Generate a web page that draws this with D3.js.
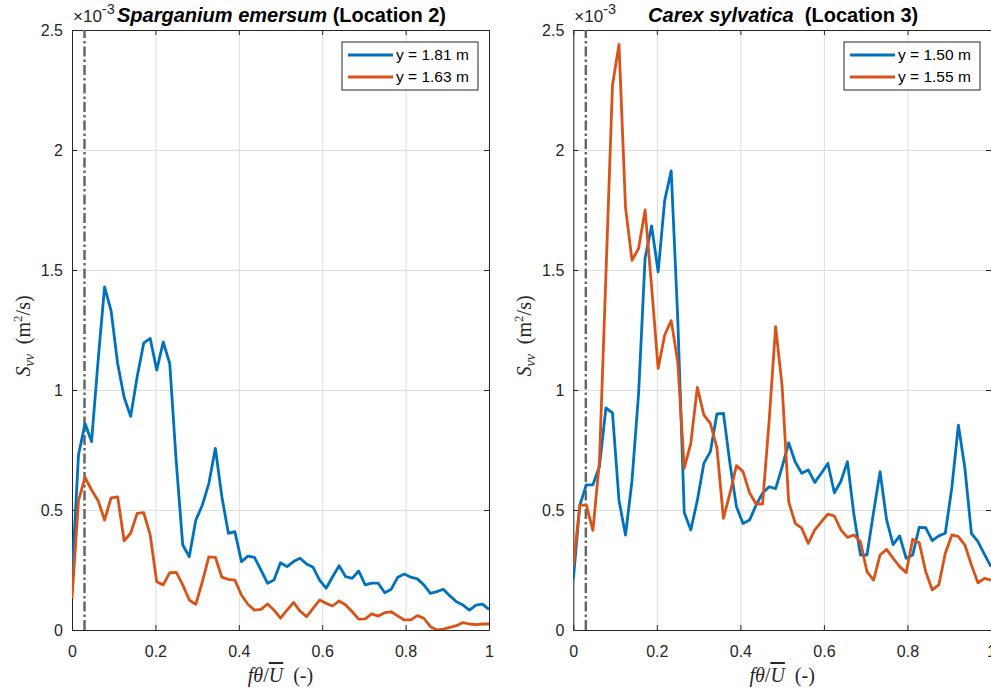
<!DOCTYPE html>
<html>
<head>
<meta charset="utf-8">
<script src="https://cdn.jsdelivr.net/npm/d3@7"></script>
<style>
  html, body { margin: 0; padding: 0; background: #fff; }
  svg { display: block; }
  text { white-space: pre; }
</style>
</head>
<body>
<svg id="chart" width="991" height="692"></svg>
<script>
// Normalised frequency f·θ/Ū of each spectral bin
const freq = [0, 0.0156, 0.0313, 0.0469, 0.0625, 0.0781, 0.0938, 0.1094, 0.125, 0.1406,
  0.1563, 0.1719, 0.1875, 0.2031, 0.2188, 0.2344, 0.25, 0.2656, 0.2813, 0.2969,
  0.3125, 0.3281, 0.3438, 0.3594, 0.375, 0.3906, 0.4063, 0.4219, 0.4375, 0.4531,
  0.4688, 0.4844, 0.5, 0.5156, 0.5313, 0.5469, 0.5625, 0.5781, 0.5938, 0.6094,
  0.625, 0.6406, 0.6563, 0.6719, 0.6875, 0.7031, 0.7188, 0.7344, 0.75, 0.7656,
  0.7813, 0.7969, 0.8125, 0.8281, 0.8438, 0.8594, 0.875, 0.8906, 0.9063, 0.9219,
  0.9375, 0.9531, 0.9688, 0.9844, 1];

// Spectra S_vv in units of 1e-3 m^2/s
// Sparganium emersum (Location 2)
const sparganium181 = [0.22, 0.73, 0.86, 0.785, 1.12, 1.43, 1.33, 1.11, 0.97, 0.89,
  1.055, 1.195, 1.215, 1.083, 1.20, 1.11, 0.70, 0.354, 0.305, 0.458,
  0.52, 0.61, 0.757, 0.555, 0.403, 0.41, 0.285, 0.308, 0.303, 0.25,
  0.195, 0.208, 0.28, 0.264, 0.285, 0.299, 0.275, 0.261, 0.208, 0.174,
  0.222, 0.268, 0.222, 0.215, 0.246, 0.188, 0.195, 0.195, 0.155, 0.17,
  0.22, 0.233, 0.22, 0.213, 0.188, 0.153, 0.16, 0.17, 0.142, 0.118,
  0.104, 0.083, 0.104, 0.108, 0.086];
const sparganium163 = [0.132, 0.54, 0.636, 0.583, 0.54, 0.458, 0.551, 0.555, 0.372, 0.403,
  0.486, 0.489, 0.396, 0.201, 0.188, 0.239, 0.24, 0.188, 0.125, 0.107,
  0.201, 0.305, 0.303, 0.22, 0.211, 0.208, 0.146, 0.107, 0.083, 0.086,
  0.108, 0.083, 0.049, 0.083, 0.115, 0.079, 0.056, 0.09, 0.125, 0.111,
  0.1, 0.121, 0.104, 0.076, 0.045, 0.046, 0.067, 0.058, 0.072, 0.076,
  0.058, 0.042, 0.042, 0.06, 0.049, 0.014, 0.0, 0.004, 0.011, 0.018,
  0.031, 0.025, 0.022, 0.025, 0.025];
// Carex sylvatica (Location 3)
const carex150 = [0.21, 0.52, 0.605, 0.605, 0.68, 0.925, 0.905, 0.54, 0.395, 0.623,
  0.985, 1.55, 1.684, 1.492, 1.79, 1.913, 1.30, 0.49, 0.417, 0.54,
  0.694, 0.743, 0.9, 0.903, 0.694, 0.514, 0.444, 0.458, 0.52, 0.57,
  0.597, 0.589, 0.68, 0.78, 0.70, 0.653, 0.667, 0.615, 0.653, 0.694,
  0.572, 0.62, 0.701, 0.48, 0.3125, 0.3125, 0.49, 0.66, 0.46, 0.356,
  0.392, 0.299, 0.3125, 0.428, 0.426, 0.372, 0.392, 0.403, 0.594, 0.854,
  0.674, 0.403, 0.368, 0.315, 0.264];
const carex155 = [0.265, 0.52, 0.52, 0.415, 0.70, 1.48, 2.27, 2.44, 1.76, 1.54,
  1.59, 1.75, 1.43, 1.09, 1.229, 1.289, 1.118, 0.674, 0.778, 1.011,
  0.896, 0.861, 0.76, 0.465, 0.569, 0.685, 0.66, 0.572, 0.525, 0.525,
  0.87, 1.264, 1.014, 0.535, 0.444, 0.424, 0.361, 0.417, 0.451, 0.483,
  0.475, 0.417, 0.386, 0.396, 0.368, 0.243, 0.208, 0.3125, 0.336, 0.299,
  0.264, 0.239, 0.378, 0.364, 0.243, 0.167, 0.188, 0.32, 0.396, 0.389,
  0.354, 0.271, 0.197, 0.215, 0.208];

// Marker for the reference frequency (dash-dot line)
const cutoffFreq = 0.03;

const xTicks = [0, 0.2, 0.4, 0.6, 0.8, 1];
const yTicks = [0, 0.5, 1, 1.5, 2, 2.5];
const yDomain = [0, 2.5];

const seriesColors = ['#0072BD', '#D95319'];

const panels = [
  {
    titleItalic: 'Sparganium emersum', titleRest: ' (Location 2)',
    series: [sparganium181, sparganium163],
    labels: ['y = 1.81 m', 'y = 1.63 m'],
    left: 72, right: 489
  },
  {
    titleItalic: 'Carex sylvatica', titleRest: '  (Location 3)',
    series: [carex150, carex155],
    labels: ['y = 1.50 m', 'y = 1.55 m'],
    left: 573.3, right: 991
  }
];

const svg = d3.select('#chart');
const TOP = 30, BOTTOM = 630;
const axisColor = '#262626';
const gridColor = '#dedede';
const sansFont = '"Liberation Sans", Arial, Helvetica, sans-serif';
const mathFont = '"Liberation Serif", "Times New Roman", serif';

panels.forEach((p, pi) => {
  const x = d3.scaleLinear().domain([0, 1]).range([p.left, p.right]);
  const y = d3.scaleLinear().domain(yDomain).range([BOTTOM, TOP]);
  const g = svg.append('g');
  const h = BOTTOM - TOP, w = p.right - p.left;

  // grid
  g.append('g')
    .attr('transform', `translate(0,${BOTTOM})`)
    .call(d3.axisBottom(x).tickValues(xTicks).tickSize(-h).tickFormat(''))
    .call(s => { s.select('.domain').remove(); s.selectAll('line').attr('stroke', gridColor).attr('stroke-width', 1); });
  g.append('g')
    .attr('transform', `translate(${p.left},0)`)
    .call(d3.axisLeft(y).tickValues(yTicks).tickSize(-w).tickFormat(''))
    .call(s => { s.select('.domain').remove(); s.selectAll('line').attr('stroke', gridColor).attr('stroke-width', 1); });

  // box with inward ticks on all sides
  const styleAxis = s => {
    s.select('.domain').attr('stroke', axisColor).attr('stroke-width', 1);
    s.selectAll('.tick line').attr('stroke', axisColor).attr('stroke-width', 1);
    s.selectAll('.tick text').attr('fill', axisColor)
      .attr('font-family', sansFont)
      .attr('font-size', 16);
  };
  g.append('g')
    .attr('transform', `translate(0,${BOTTOM})`)
    .call(d3.axisBottom(x).tickValues(xTicks).tickSizeInner(-5).tickSizeOuter(0).tickPadding(16).tickFormat(d => String(d)))
    .call(styleAxis);
  g.append('g')
    .attr('transform', `translate(0,${TOP})`)
    .call(d3.axisTop(x).tickValues(xTicks).tickSizeInner(-5).tickSizeOuter(0).tickFormat(''))
    .call(styleAxis);
  g.append('g')
    .attr('transform', `translate(${p.left},0)`)
    .call(d3.axisLeft(y).tickValues(yTicks).tickSizeInner(-5).tickSizeOuter(0).tickPadding(9).tickFormat(d => String(d)))
    .call(styleAxis);
  g.append('g')
    .attr('transform', `translate(${p.right},0)`)
    .call(d3.axisRight(y).tickValues(yTicks).tickSizeInner(-5).tickSizeOuter(0).tickFormat(''))
    .call(styleAxis);

  // clip region
  const clipId = 'clip' + pi;
  svg.append('clipPath').attr('id', clipId)
    .append('rect').attr('x', p.left).attr('y', TOP).attr('width', w).attr('height', h);

  const plot = g.append('g').attr('clip-path', `url(#${clipId})`);

  // dash-dot reference line
  plot.append('line')
    .attr('x1', x(cutoffFreq)).attr('x2', x(cutoffFreq))
    .attr('y1', y(yDomain[0])).attr('y2', y(yDomain[1]))
    .attr('stroke', '#666666').attr('stroke-width', 2.5)
    .attr('stroke-dasharray', '10,3,2.5,3');

  // spectra
  const line = d3.line().x((d, i) => x(freq[i])).y(d => y(d));
  p.series.forEach((vals, si) => {
    plot.append('path')
      .datum(vals)
      .attr('d', line)
      .attr('fill', 'none')
      .attr('stroke', seriesColors[si])
      .attr('stroke-width', 2.8)
      .attr('stroke-linejoin', 'round');
  });

  // exponent label
  const expo = g.append('text')
    .attr('x', p.left + 1).attr('y', 22)
    .attr('fill', axisColor)
    .attr('font-family', sansFont)
    .attr('font-size', 17);
  expo.append('tspan').text('×10');
  expo.append('tspan').attr('dy', -8).attr('font-size', 14.5).text('-3');

  // title
  const title = g.append('text')
    .attr('x', (p.left + p.right) / 2 + 1).attr('y', 22)
    .attr('text-anchor', 'middle')
    .attr('fill', '#000')
    .attr('font-family', sansFont)
    .attr('font-size', 20).attr('font-weight', 'bold');
  title.append('tspan').attr('font-style', 'italic').text(p.titleItalic);
  title.append('tspan').text(p.titleRest);

  // axis labels (math style)
  const xl = g.append('text')
    .attr('x', (p.left + p.right) / 2).attr('y', 682)
    .attr('text-anchor', 'middle')
    .attr('fill', axisColor)
    .attr('font-family', mathFont).attr('font-size', 20);
  xl.append('tspan').attr('font-style', 'italic').text('fθ');
  xl.append('tspan').text('/');
  xl.append('tspan').attr('font-style', 'italic').style('text-decoration', 'overline').text('U');
  xl.append('tspan').text('  (-)');

  const ylx = p.left - 42, yly = (TOP + BOTTOM) / 2 + 6;
  const yl = g.append('text')
    .attr('transform', `translate(${ylx},${yly}) rotate(-90)`)
    .attr('text-anchor', 'middle')
    .attr('fill', axisColor)
    .attr('font-family', mathFont).attr('font-size', 20);
  yl.append('tspan').attr('font-style', 'italic').text('S');
  yl.append('tspan').attr('font-style', 'italic').attr('font-size', 14).attr('dy', 4).text('vv');
  yl.append('tspan').attr('dy', -4).text('  (m');
  yl.append('tspan').attr('font-size', 13).attr('dy', -8).text('2');
  yl.append('tspan').attr('dy', 8).text('/s)');

  // legend
  const lx = p.right - 147, ly = 42;
  const leg = g.append('g').attr('transform', `translate(${lx},${ly})`);
  leg.append('rect').attr('width', 136).attr('height', 48)
    .attr('fill', '#fff').attr('stroke', axisColor).attr('stroke-width', 1);
  p.labels.forEach((lab, si) => {
    const yy = 13 + si * 22;
    leg.append('line').attr('x1', 6).attr('x2', 51).attr('y1', yy).attr('y2', yy)
      .attr('stroke', seriesColors[si]).attr('stroke-width', 2.8);
    leg.append('text').attr('x', 54).attr('y', yy).attr('dy', '0.35em')
      .attr('fill', '#000')
      .attr('font-family', sansFont)
      .attr('font-size', 15.5).text(lab);
  });
});
</script>
</body>
</html>
